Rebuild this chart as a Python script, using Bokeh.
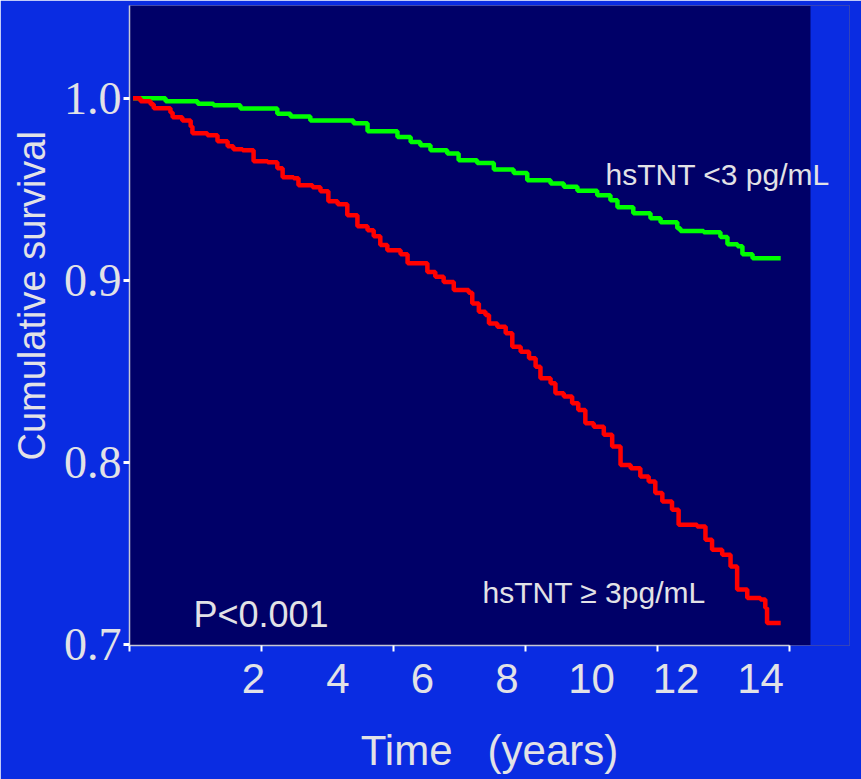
from bokeh.plotting import figure
from bokeh.models import (Range1d, LinearAxis, FixedTicker, Label, Title, PrintfTickFormatter,
                          BoxAnnotation)
from bokeh.embed import file_html
from bokeh.resources import INLINE

# ---- data ----
green_t = [0.08, 0.82, 1.55, 1.91, 2.52, 3.36, 3.66, 4.11, 5.09, 5.41, 6.09, 6.39, 6.61, 6.84,
           7.22, 7.48, 7.90, 8.28, 8.73, 9.04, 9.57, 9.87, 10.18, 10.63, 10.93, 11.09, 11.45,
           11.84, 12.07, 12.45, 12.52, 13.05, 13.43, 13.59, 13.82, 13.93, 14.16, 14.80]
green_s = [1.0, 0.9984, 0.9971, 0.9962, 0.9944, 0.9916, 0.9901, 0.9879, 0.9863, 0.9819, 0.9788,
           0.9760, 0.9742, 0.9715, 0.9697, 0.9660, 0.9645, 0.9609, 0.9590, 0.9550, 0.9532,
           0.9514, 0.9492, 0.9468, 0.9441, 0.9402, 0.9369, 0.9342, 0.9320, 0.9287, 0.9271,
           0.9265, 0.9238, 0.9199, 0.9188, 0.9144, 0.9122, 0.9122]

red_t = [0.08, 0.25, 0.48, 0.55, 0.93, 0.98, 1.20, 1.39, 1.43, 1.77, 2.00, 2.23, 2.36, 2.57,
         2.82, 3.14, 3.36, 3.48, 3.73, 3.84, 4.16, 4.34, 4.52, 4.73, 4.95, 5.18, 5.41, 5.55,
         5.70, 5.86, 6.16, 6.32, 6.77, 6.95, 7.14, 7.37, 7.71, 7.79, 7.94, 8.09, 8.17, 8.36,
         8.55, 8.70, 8.89, 9.08, 9.23, 9.34, 9.57, 9.68, 9.87, 10.06, 10.20, 10.36, 10.55,
         10.78, 10.97, 11.16, 11.39, 11.61, 11.80, 11.95, 12.11, 12.33, 12.48, 12.90, 13.09,
         13.24, 13.47, 13.66, 13.81, 14.04, 14.34, 14.45, 14.49, 14.80]
red_s = [1.0, 0.9984, 0.9967, 0.9945, 0.9923, 0.9896, 0.9879, 0.9846, 0.9808, 0.9797, 0.9764,
         0.9737, 0.9720, 0.9715, 0.9654, 0.9649, 0.9616, 0.9567, 0.9561, 0.9523, 0.9512,
         0.9490, 0.9435, 0.9419, 0.9358, 0.9298, 0.9276, 0.9243, 0.9194, 0.9166, 0.9144,
         0.9095, 0.9047, 0.9020, 0.8992, 0.8947, 0.8932, 0.8874, 0.8828, 0.8810, 0.8764,
         0.8746, 0.8710, 0.8636, 0.8609, 0.8572, 0.8526, 0.8463, 0.8435, 0.8380, 0.8362,
         0.8326, 0.8289, 0.8216, 0.8197, 0.8152, 0.8088, 0.7987, 0.7969, 0.7923, 0.7896,
         0.7832, 0.7786, 0.7741, 0.7658, 0.7649, 0.7576, 0.7521, 0.7494, 0.7429, 0.7302,
         0.7256, 0.7247, 0.7201, 0.7119, 0.7119]

y_ticks = [0.7, 0.8, 0.9, 1.0]
x_tick_marks = [0, 3, 6, 9, 12, 15]          # years, where the slide's tick marks sit
x_tick_labels = [2, 4, 6, 8, 10, 12, 14]     # labels as typed on the slide

TXT = "#e2e2e6"
SANS = "Liberation Sans"
BLUE = "#0a2ce2"
PX_PER_T = 44.0
FRAME_L, FRAME_R = 129, 849   # frame spans past the navy panel so the right label can overflow
PANEL_R = 810

p = figure(width=861, height=779, output_backend="svg", toolbar_location=None,
           x_range=Range1d(0, (FRAME_R - FRAME_L) / PX_PER_T), y_range=Range1d(0.6995, 1.051),
           x_axis_type=None, y_axis_type=None,
           min_border_left=FRAME_L, min_border_right=861 - FRAME_R, min_border_top=5,
           min_border_bottom=134,
           background_fill_color="#000068", border_fill_color=BLUE,
           outline_line_color=None)

def tx(px):
    return (px - FRAME_L) / PX_PER_T

def vy(py):
    return 1.0 - (py - 98) / 1823.3

# blue strip to the right of the navy panel
p.add_layout(BoxAnnotation(left=tx(PANEL_R), fill_color=BLUE, fill_alpha=1.0,
                           line_alpha=0, level="underlay"))

# y axis
ya = LinearAxis(ticker=FixedTicker(ticks=y_ticks), formatter=PrintfTickFormatter(format="%.1f"))
ya.axis_line_color = "#c8c8d4"
ya.axis_line_width = 1.5
ya.major_tick_line_color = "white"
ya.major_tick_line_width = 3
ya.major_tick_out = 6
ya.major_tick_in = 0
ya.minor_tick_line_color = None
ya.major_label_text_font = "Liberation Serif"
ya.major_label_text_font_size = "46px"
ya.major_label_text_color = TXT
ya.major_label_standoff = 2
p.add_layout(ya, "left")

# x axis: labels are offset from the tick marks on the slide, so the labels are the
# major ticks of a second range and the tick marks are its minor ticks
lab_left = 2 + (FRAME_L - 253) / 42.25
lab_right = 2 + (FRAME_R - 253) / 42.25
p.extra_x_ranges = {"lab": Range1d(lab_left, lab_right)}
mark_pos = [2 + (FRAME_L + PX_PER_T * t - 253) / 42.25 for t in x_tick_marks]
xl = LinearAxis(x_range_name="lab", ticker=FixedTicker(ticks=x_tick_labels, minor_ticks=mark_pos))
xl.bounds = (mark_pos[0], mark_pos[-1])
xl.axis_line_color = "#c8c8d4"
xl.axis_line_width = 1.5
xl.major_tick_line_color = None
xl.major_tick_out = 0
xl.major_tick_in = 0
xl.minor_tick_line_color = "white"
xl.minor_tick_line_width = 2
xl.minor_tick_out = 6
xl.minor_tick_in = 0
xl.major_label_text_font = SANS
xl.major_label_text_font_size = "42px"
xl.major_label_text_color = TXT
xl.major_label_standoff = 12
xl.axis_label = "Time\u00a0\u00a0\u00a0(years)"
xl.axis_label_text_font = SANS
xl.axis_label_text_font_size = "42px"
xl.axis_label_text_font_style = "normal"
xl.axis_label_text_color = TXT
xl.axis_label_standoff = 31
p.add_layout(xl, "below")

p.step(green_t, green_s, mode="after", line_color="#00ff00", line_width=4.5)
p.step(red_t, red_s, mode="after", line_color="#ff0000", line_width=4.5)

p.add_layout(Label(x=tx(605), y=vy(174), text="hsTNT <3 pg/mL", text_font=SANS,
                   text_font_size="30px", text_color=TXT, text_baseline="alphabetic"))
p.add_layout(Label(x=tx(482), y=vy(593), text="hsTNT \u2265 3pg/mL", text_font=SANS,
                   text_font_size="30px", text_color=TXT, text_baseline="alphabetic"))
p.add_layout(Label(x=tx(193), y=vy(615), text="P<0.001", text_font=SANS,
                   text_font_size="36px", text_color=TXT, text_baseline="alphabetic"))

p.add_layout(Title(text="Cumulative survival", text_font=SANS, text_font_size="38px",
                   text_color=TXT, text_font_style="normal", align="left", offset=185,
                   standoff=16), "left")

open("out.html", "w").write(file_html(p, INLINE))
